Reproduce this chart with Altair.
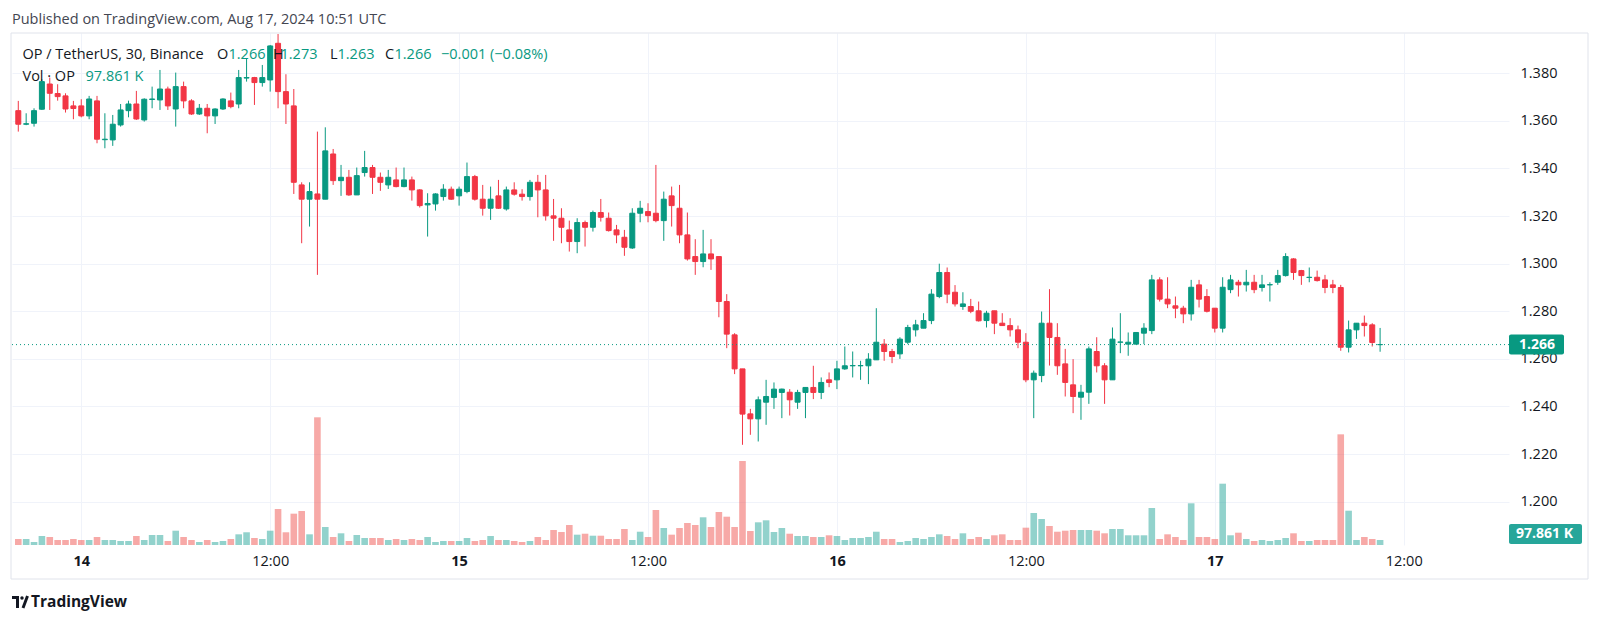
import altair as alt
import pandas as pd

# ---- colours / fonts ----
UP = "#089981"
DOWN = "#f23645"
VOL_UP = "#26a69a"
VOL_DOWN = "#ef5350"
TXT = "#131722"
GRID = "#f0f3fa"
FONT = "Open Sans"
AX_SIZE = 14.5
TXT_SIZE = 14.5

# ---- data: OP/USDT 30-minute candles, first candle Aug 13 20:00 UTC ----
opens = [
1.3643,1.3586,1.3590,1.3649,1.3755,1.3715,1.3705,1.3663,1.3663,1.3621,
1.3684,1.3521,1.3520,1.3583,1.3643,1.3671,1.3604,1.3690,1.3688,1.3734,
1.3650,1.3744,1.3684,1.3629,1.3653,1.3621,1.3650,1.3684,1.3671,1.3780,
1.3782,1.3761,1.3772,1.3926,1.3723,1.3663,1.3331,1.3271,1.3293,1.3271,
1.3461,1.3349,1.3363,1.3289,1.3383,1.3404,1.3363,1.3331,1.3352,1.3324,
1.3352,1.3310,1.3247,1.3251,1.3282,1.3313,1.3285,1.3303,1.3366,1.3271,
1.3233,1.3285,1.3230,1.3310,1.3292,1.3282,1.3342,1.3310,1.3201,1.3191,
1.3142,1.3093,1.3173,1.3153,1.3215,1.3191,1.3142,1.3111,1.3066,1.3212,
1.3219,1.3212,1.3181,1.3285,1.3233,1.3121,1.3030,1.3009,1.3041,1.3030,
1.2841,1.2701,1.2558,1.2369,1.2348,1.2418,1.2438,1.2459,1.2460,1.2418,
1.2459,1.2480,1.2459,1.2512,1.2512,1.2558,1.2571,1.2571,1.2571,1.2596,
1.2662,1.2631,1.2621,1.2670,1.2722,1.2729,1.2761,1.2862,1.2963,1.2880,
1.2820,1.2820,1.2802,1.2761,1.2802,1.2750,1.2740,1.2722,1.2670,1.2512,
1.2530,1.2750,1.2690,1.2579,1.2491,1.2439,1.2460,1.2631,1.2571,1.2512,
1.2670,1.2662,1.2662,1.2708,1.2719,1.2932,1.2851,1.2823,1.2813,1.2789,
1.2911,1.2862,1.2813,1.2729,1.2891,1.2922,1.2911,1.2922,1.2900,1.2911,
1.2922,1.2950,1.3020,1.2971,1.2942,1.2943,1.2932,1.2911,1.2900,1.2649,
1.2722,1.2750,1.2743,1.2660]

highs = [
1.3684,1.3632,1.3653,1.3775,1.3782,1.3754,1.3716,1.3684,1.3691,1.3705,
1.3705,1.3632,1.3625,1.3671,1.3685,1.3726,1.3695,1.3744,1.3814,1.3744,
1.3803,1.3765,1.3691,1.3671,1.3671,1.3653,1.3695,1.3719,1.3814,1.3863,
1.3785,1.3835,1.3919,1.3965,1.3796,1.3734,1.3342,1.3342,1.3555,1.3573,
1.3482,1.3415,1.3394,1.3404,1.3474,1.3415,1.3383,1.3394,1.3404,1.3404,
1.3366,1.3313,1.3296,1.3296,1.3334,1.3324,1.3324,1.3425,1.3373,1.3331,
1.3324,1.3352,1.3324,1.3342,1.3313,1.3352,1.3373,1.3373,1.3272,1.3233,
1.3181,1.3191,1.3181,1.3223,1.3272,1.3215,1.3163,1.3142,1.3233,1.3264,
1.3254,1.3415,1.3303,1.3324,1.3331,1.3215,1.3103,1.3142,1.3103,1.3030,
1.2872,1.2708,1.2558,1.2390,1.2442,1.2512,1.2501,1.2475,1.2473,1.2470,
1.2480,1.2571,1.2522,1.2543,1.2592,1.2652,1.2631,1.2592,1.2624,1.2813,
1.2683,1.2642,1.2691,1.2743,1.2764,1.2792,1.2893,1.3000,1.2984,1.2910,
1.2880,1.2852,1.2841,1.2802,1.2802,1.2792,1.2771,1.2740,1.2708,1.2551,
1.2799,1.2893,1.2750,1.2642,1.2599,1.2491,1.2652,1.2691,1.2582,1.2732,
1.2792,1.2711,1.2711,1.2750,1.2953,1.2943,1.2943,1.2862,1.2823,1.2932,
1.2932,1.2893,1.2813,1.2943,1.2953,1.2932,1.2974,1.2953,1.2953,1.2922,
1.2974,1.3044,1.3023,1.2974,1.2984,1.2971,1.2953,1.2932,1.2911,1.2761,
1.2750,1.2782,1.2750,1.2730]

lows = [
1.3555,1.3582,1.3576,1.3646,1.3646,1.3685,1.3635,1.3607,1.3615,1.3607,
1.3506,1.3485,1.3495,1.3576,1.3615,1.3604,1.3597,1.3653,1.3646,1.3646,
1.3576,1.3653,1.3625,1.3625,1.3548,1.3587,1.3646,1.3653,1.3653,1.3765,
1.3667,1.3744,1.3723,1.3653,1.3587,1.3293,1.3086,1.3156,1.2953,1.3271,
1.3331,1.3285,1.3285,1.3289,1.3366,1.3293,1.3306,1.3314,1.3321,1.3321,
1.3265,1.3236,1.3114,1.3223,1.3265,1.3268,1.3244,1.3296,1.3265,1.3202,
1.3184,1.3230,1.3223,1.3286,1.3265,1.3265,1.3195,1.3181,1.3096,1.3086,
1.3051,1.3044,1.3072,1.3135,1.3177,1.3135,1.3086,1.3033,1.3062,1.3174,
1.3174,1.3174,1.3096,1.3156,1.3086,1.3013,1.2953,1.2985,1.2974,1.2775,
1.2645,1.2536,1.2239,1.2281,1.2253,1.2323,1.2390,1.2351,1.2362,1.2390,
1.2351,1.2431,1.2431,1.2481,1.2473,1.2554,1.2522,1.2512,1.2494,1.2596,
1.2592,1.2582,1.2600,1.2662,1.2694,1.2729,1.2746,1.2855,1.2834,1.2820,
1.2806,1.2792,1.2757,1.2732,1.2704,1.2740,1.2694,1.2645,1.2502,1.2351,
1.2502,1.2572,1.2533,1.2442,1.2372,1.2344,1.2411,1.2543,1.2411,1.2512,
1.2624,1.2613,1.2662,1.2662,1.2704,1.2841,1.2813,1.2771,1.2750,1.2761,
1.2816,1.2795,1.2711,1.2711,1.2876,1.2862,1.2883,1.2876,1.2883,1.2841,
1.2911,1.2946,1.2932,1.2911,1.2922,1.2925,1.2876,1.2876,1.2634,1.2627,
1.2684,1.2694,1.2652,1.2630]

closes = [
1.3586,1.3588,1.3643,1.3765,1.3716,1.3702,1.3650,1.3652,1.3621,1.3692,
1.3523,1.3523,1.3586,1.3646,1.3671,1.3608,1.3691,1.3692,1.3734,1.3663,
1.3744,1.3684,1.3629,1.3653,1.3621,1.3650,1.3692,1.3660,1.3782,1.3782,
1.3761,1.3782,1.3915,1.3723,1.3671,1.3342,1.3271,1.3303,1.3271,1.3474,
1.3349,1.3363,1.3289,1.3370,1.3404,1.3363,1.3342,1.3363,1.3324,1.3352,
1.3310,1.3244,1.3253,1.3293,1.3313,1.3271,1.3313,1.3366,1.3271,1.3233,
1.3271,1.3233,1.3310,1.3292,1.3282,1.3342,1.3310,1.3201,1.3191,1.3153,
1.3093,1.3173,1.3153,1.3215,1.3195,1.3139,1.3121,1.3069,1.3212,1.3233,
1.3202,1.3181,1.3271,1.3244,1.3121,1.3020,1.3009,1.3041,1.3020,1.2841,
1.2704,1.2558,1.2368,1.2348,1.2428,1.2442,1.2473,1.2473,1.2428,1.2459,
1.2480,1.2459,1.2501,1.2501,1.2558,1.2571,1.2572,1.2572,1.2599,1.2670,
1.2631,1.2610,1.2683,1.2732,1.2743,1.2761,1.2872,1.2963,1.2872,1.2831,
1.2831,1.2800,1.2760,1.2792,1.2750,1.2740,1.2722,1.2670,1.2512,1.2540,
1.2750,1.2690,1.2571,1.2501,1.2442,1.2460,1.2642,1.2571,1.2512,1.2683,
1.2671,1.2670,1.2711,1.2729,1.2932,1.2851,1.2831,1.2813,1.2789,1.2901,
1.2851,1.2800,1.2729,1.2901,1.2932,1.2911,1.2922,1.2891,1.2911,1.2912,
1.2950,1.3030,1.2963,1.2950,1.2943,1.2929,1.2900,1.2900,1.2649,1.2722,
1.2750,1.2740,1.2669,1.2660]

volumes_k = [
117,117,59,176,157,98,98,117,98,98,
157,98,98,78,78,176,98,196,196,78,
280,157,98,59,98,59,78,117,209,249,
137,117,280,705,249,613,665,209,2499,352,
157,229,78,196,137,137,137,98,117,98,
117,98,157,59,78,78,78,137,78,98,
176,98,98,78,59,78,157,98,294,254,
391,202,221,182,182,117,117,313,98,260,
157,685,333,202,333,431,391,542,352,646,
554,352,1644,274,444,483,254,333,221,176,
176,157,157,190,176,98,137,137,157,260,
117,117,59,78,137,117,157,209,176,117,
229,117,157,117,190,209,98,98,339,626,
509,372,260,280,294,294,294,280,229,313,
313,190,190,190,724,117,209,157,98,816,
157,157,117,1200,190,241,117,78,98,78,
98,137,229,78,78,98,98,98,2166,671,
98,157,117,97.861]

first_hour = -4.0      # Aug 13 20:00 UTC, hours relative to Aug 14 00:00 UTC
step_hours = 0.5       # 30-minute candles
hours = [first_hour + step_hours * i for i in range(len(opens))]

tick_hours = [0, 12, 24, 36, 48, 60, 72, 84]
price_ticks = [1.200, 1.220, 1.240, 1.260, 1.280, 1.300, 1.320, 1.340, 1.360, 1.380]

df = pd.DataFrame({"t": hours, "open": opens, "high": highs, "low": lows,
                   "close": closes, "vol": volumes_k})

W, H = 1497, 512

x_scale = alt.Scale(domain=[-4.082, 90.37], nice=False, zero=False)
p_scale = alt.Scale(domain=[1.1818, 1.39693], nice=False, zero=False)
v_scale = alt.Scale(domain=[0, 10020], nice=False, zero=True)

x_axis = alt.Axis(
    values=tick_hours,
    labelExpr="datum.value % 24 === 0 ? '' + (14 + datum.value / 24) : '12:00'",
    grid=True, gridColor=GRID, gridWidth=1, ticks=False, domain=False,
    labelPadding=9, labelFontSize=AX_SIZE, labelColor=TXT, labelFont=FONT,
    labelAngle=0, labelFlush=False,
    labelFontWeight={"condition": {"test": "datum.value % 24 === 0", "value": "bold"},
                     "value": "normal"},
    title=None)

p_axis = alt.Axis(orient="right", values=price_ticks, format=".3f", grid=True,
                  gridColor=GRID, gridWidth=1, ticks=False, domain=False,
                  labelPadding=11, labelFontSize=AX_SIZE, labelColor=TXT, labelFont=FONT,
                  title=None)

X = alt.X("t:Q", scale=x_scale, axis=x_axis)
updown = "datum.close >= datum.open"

wicks = alt.Chart(df).mark_rule(strokeWidth=1).encode(
    x=X,
    y=alt.Y("low:Q", scale=p_scale, axis=p_axis),
    y2="high:Q",
    color=alt.condition(updown, alt.value(UP), alt.value(DOWN)),
)

bodies = alt.Chart(df).mark_bar(size=5, strokeWidth=1).encode(
    x=X,
    y=alt.Y("open:Q", scale=p_scale, axis=p_axis),
    y2="close:Q",
    color=alt.condition(updown, alt.value(UP), alt.value(DOWN)),
    stroke=alt.condition(updown, alt.value(UP), alt.value(DOWN)),
)

vol = alt.Chart(df).mark_bar(size=6.6, opacity=0.5).encode(
    x=X,
    y=alt.Y("vol:Q", scale=v_scale, axis=None),
    color=alt.condition(updown, alt.value(VOL_UP), alt.value(VOL_DOWN)),
)

last_df = pd.DataFrame({"p": [closes[-1]], "v": [volumes_k[-1]]})

last_rule = alt.Chart(last_df).mark_rule(color=UP, strokeDash=[1, 3], strokeWidth=1).encode(
    y=alt.Y("p:Q", scale=p_scale, axis=p_axis))

tag_rect = alt.Chart(last_df).transform_calculate(
    lo="datum.p - 0.0042", hi="datum.p + 0.0042"
).mark_rect(color=UP, cornerRadius=2).encode(
    x=alt.value(W), x2=alt.value(W + 55),
    y=alt.Y("lo:Q", scale=p_scale, axis=p_axis), y2="hi:Q")

tag_text = alt.Chart(last_df).mark_text(
    align="left", baseline="middle", color="white", fontWeight="bold",
    fontSize=AX_SIZE - 0.5, font=FONT).encode(
    x=alt.value(W + 10),
    y=alt.Y("p:Q", scale=p_scale, axis=p_axis),
    text=alt.Text("p:Q", format=".3f"))

price = alt.layer(wicks, bodies, last_rule, tag_rect, tag_text)

vtag_rect = alt.Chart(last_df).mark_rect(color=VOL_UP, cornerRadius=2).encode(
    x=alt.value(W), x2=alt.value(W + 73), y=alt.value(H - 21), y2=alt.value(H - 1))
vtag_text = alt.Chart(last_df).transform_calculate(
    lbl="format(datum.v, '.3f') + ' K'"
).mark_text(align="left", baseline="middle", color="white", fontWeight="bold",
            fontSize=AX_SIZE - 0.5, font=FONT).encode(
    x=alt.value(W + 7), y=alt.value(H - 11), text="lbl:N")

one = pd.DataFrame({"d": [0]})

frame = alt.Chart(one).mark_rect(fill="white", fillOpacity=0, stroke="#e0e3eb",
                                 strokeWidth=1).encode(
    x=alt.value(-1), x2=alt.value(1576), y=alt.value(0), y2=alt.value(546))


def label(text, x, y, color=TXT, size=TXT_SIZE, weight="normal"):
    return alt.Chart(one).mark_text(
        text=text, align="left", baseline="middle", font=FONT, fontSize=size,
        fontWeight=weight, color=color).encode(x=alt.value(x), y=alt.value(y))


texts = [
    label("Published on TradingView.com, Aug 17, 2024 10:51 UTC", 0, -13, color="#434651"),
    label("OP / TetherUS, 30, Binance", 10.5, 21.5),
    label("O", 205, 21.5), label("1.266", 216.5, 21.5, color=UP),
    label("H", 261, 21.5), label("1.273", 268.5, 21.5, color=UP),
    label("L", 318, 21.5), label("1.263", 325.5, 21.5, color=UP),
    label("C", 373, 21.5), label("1.266", 382.5, 21.5, color=UP),
    label("\u22120.001 (\u22120.08%)", 429, 21.5, color=UP),
    label("Vol \u00b7 OP", 10.5, 44),
    label("97.861 K", 73.5, 44, color=UP),
    label("TradingView", 19, 569, size=15.5, weight="bold"),
]

logo_bar = alt.Chart(one).mark_rect(color=TXT).encode(
    x=alt.value(0), x2=alt.value(7), y=alt.value(563), y2=alt.value(566))
logo_stem = alt.Chart(one).mark_rect(color=TXT).encode(
    x=alt.value(4), x2=alt.value(7), y=alt.value(563), y2=alt.value(575))
logo_dot = alt.Chart(one).mark_point(filled=True, color=TXT, size=12, opacity=1).encode(
    x=alt.value(10), y=alt.value(565))
logo_slash = alt.Chart(one).mark_rule(color=TXT, strokeWidth=3).encode(
    x=alt.value(11), x2=alt.value(15.5), y=alt.value(575), y2=alt.value(563))

chart = alt.layer(
    frame, vol, price, vtag_rect, vtag_text,
    logo_bar, logo_stem, logo_dot, logo_slash, *texts
).resolve_scale(y="independent").properties(
    width=W, height=H,
    autosize=alt.AutoSizeParams(type="none"),
    padding={"left": 4, "top": 25, "right": 80, "bottom": 70},
    background="white",
).configure_view(stroke=None)

chart.save("out.html", embed_options={"renderer": "svg", "actions": False})
